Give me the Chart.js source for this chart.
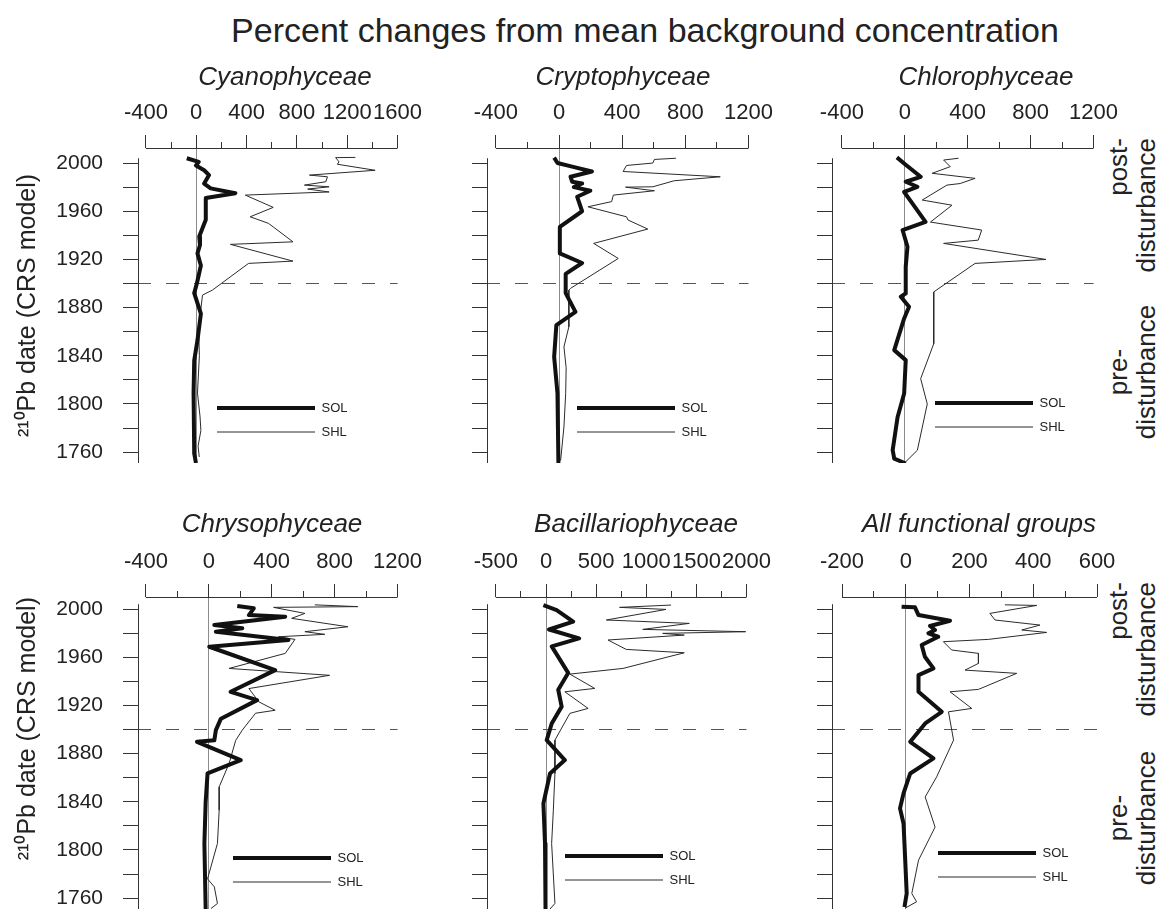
<!DOCTYPE html>
<html lang="en">
<head>
<meta charset="utf-8">
<title>Percent changes from mean background concentration</title>
<script src="https://cdn.jsdelivr.net/npm/chart.js@4.4.1/dist/chart.umd.min.js"></script>
<style>
  html, body { margin: 0; background: #fff; }
  body { position: relative; width: 1164px; height: 909px; overflow: hidden;
         font-family: "Liberation Sans", Arial, sans-serif; color: #222; }
  #mainTitle { position: absolute; left: 145px; width: 1000px; top: 10px; line-height: 40px;
               text-align: center; font-size: 34px; }
  .panel { position: absolute; }
  .side { position: absolute; width: 150px; font-size: 26px; line-height: 28px; white-space: nowrap;
          transform: translate(-50%, -50%) rotate(-90deg); }
</style>
</head>
<body>
<div id="mainTitle">Percent changes from mean background concentration</div>
<div class="side" style="left:1132px; top:213px; text-align:right">post-<br>disturbance</div>
<div class="side" style="left:1132px; top:372px; text-align:center">pre-<br>disturbance</div>
<div class="side" style="left:1132px; top:657px; text-align:right">post-<br>disturbance</div>
<div class="side" style="left:1132px; top:818px; text-align:center">pre-<br>disturbance</div>

<script>
// Values as [year, % change from mean background]
const CYANO_SOL = [[2004, -75], [2001, 20], [1998, -2], [1994, 63], [1990, 102], [1983, 63], [1979, 115],
  [1975, 311], [1971, 76], [1953, 76], [1939, 24], [1932, 30], [1925, 10], [1915, 37], [1900, 5],
  [1892, -16], [1875, 37], [1853, 10], [1836, -16], [1809, -21], [1759, -16], [1751, -2]];
const CYANO_SHL = [[2004.7, 1265], [2004.5, 1108], [2001, 1135], [1999, 1122], [1994, 1422], [1990, 900],
  [1988.6, 1043], [1984.5, 1030], [1981.7, 860], [1980.3, 1056], [1978.4, 886], [1976, 1056], [1973.4, 390],
  [1963.2, 612], [1955.4, 429], [1950, 573], [1947, 612], [1934.6, 769], [1932.5, 272], [1918.6, 769],
  [1916.7, 416], [1894.5, 128], [1890.4, 50], [1879, 37], [1860, 20], [1840, 25], [1809, 10], [1790, 30],
  [1778, 37], [1765, 15], [1756, 24]];

const CRYPTO_SOL = [[2004.5, -31], [2000, -10], [1997, 83], [1993, 208], [1988.6, 73], [1984.5, 83],
  [1983, 146], [1980, 94], [1977, 198], [1972, 115], [1960, 146], [1947, 5], [1925, 5], [1917, 146],
  [1908, 42], [1892, 42], [1876.5, 104], [1865.5, -17], [1839, -31], [1809, -10], [1751, -4]];
const CRYPTO_SHL = [[2004, 740], [2003, 604], [2000, 594], [1998, 427], [1993, 406], [1988.6, 1021],
  [1985.3, 729], [1980.3, 594], [1980, 421], [1977, 604], [1973.4, 344], [1968, 333], [1963.7, 183],
  [1955.4, 427], [1952.7, 437], [1945.2, 562], [1933.3, 219], [1920.8, 375], [1896, 73], [1894.5, 62],
  [1864, 62], [1847.4, 31], [1830, 45], [1808.7, 42], [1781, 31], [1753, 10]];

const CHLORO_SOL = [[2004.7, -50], [1999.7, -4], [1988.6, 101], [1984.5, 6], [1980.3, 80], [1976, -4],
  [1966.5, 48], [1951.2, 132], [1944.4, -14], [1930.5, 17], [1913.9, 6], [1891.8, 6], [1889, -25],
  [1880.7, 27], [1871, -4], [1844.7, -67], [1836.4, 6], [1808.7, -4], [1789, -46], [1761.6, -77],
  [1754.7, -67], [1750.6, 6]];
const CHLORO_SHL = [[2004, 342], [2002.5, 247], [1997, 289], [1991.5, 174], [1987.3, 447], [1983, 352],
  [1981.7, 268], [1969.3, 111], [1965, 300], [1951, 163], [1944.4, 489], [1936, 467], [1933.3, 247],
  [1920, 897], [1916.7, 447], [1893, 184], [1850, 184], [1821, 101], [1800, 143], [1761.6, 80], [1752, 6]];

const CHRYSO_SOL = [[2002.5, 181], [2000.6, 286], [1995, 255], [1993.6, 486], [1986.7, 35], [1984, 213],
  [1981.2, 45], [1974.3, 506], [1968.7, 3], [1949.3, 422], [1931.3, 139], [1924.4, 307], [1909, 77],
  [1899.5, 45], [1891, 35], [1889.8, -75], [1874.6, 203], [1863.5, -8], [1840, -20], [1805.4, -28],
  [1751, -20]];
const CHRYSO_SHL = [[2003.5, 674], [2002, 947], [2001.4, 412], [1996.4, 611], [1992.3, 527], [1985.3, 884],
  [1981.2, 611], [1979, 737], [1977, 443], [1974.8, 548], [1963.2, 486], [1950.7, 129], [1945, 768],
  [1934, 255], [1923, 318], [1916, 422], [1913.5, 297], [1899.5, 213], [1891, 171], [1871.8, 129],
  [1852.4, 66], [1833, 66], [1805.4, 55], [1776, -8], [1769.4, 35], [1755.6, 55], [1751.4, 14]];

const BACILL_SOL = [[2003.3, -26], [1999.2, 106], [1989.5, 271], [1983, 30], [1975.7, 330], [1969, 57],
  [1947, 221], [1933, 122], [1919, 156], [1905, 57], [1891.2, 7], [1874.6, 188], [1863.5, 40],
  [1838.6, -26], [1805.4, -10], [1751, -5]];
const BACILL_SHL = [[2003.3, 1247], [2001.4, 734], [1999.7, 1197], [1990.9, 602], [1988.1, 1429],
  [1983.1, 965], [1981.2, 1991], [1979.8, 1164], [1978.4, 1379], [1974.3, 618], [1966.5, 800],
  [1963.7, 1379], [1950.7, 767], [1946, 238], [1934.1, 486], [1931.3, 188], [1917.5, 420], [1913.4, 238],
  [1891.2, 89], [1863.5, 89], [1833, 73], [1805.4, 56], [1755.6, 89], [1751, 40]];

const ALL_SOL = [[2002, -13], [2001.4, 29], [1995, 40], [1990.3, 139], [1985.9, 76], [1982.6, 92],
  [1979.8, 71], [1977, 102], [1970.1, 50], [1960.4, 60], [1950.7, 87], [1945.2, 40], [1931.3, 40],
  [1914.7, 113], [1905, 61], [1889.8, 14], [1876, 87], [1863.5, 14], [1847, -7], [1834.5, -18],
  [1822, -7], [1805, -4], [1764, 3], [1752.7, -4]];
const ALL_SHL = [[2003.5, 311], [2003, 411], [1996.4, 264], [1990.9, 280], [1986.7, 421], [1982.6, 364],
  [1980.6, 442], [1974.8, 259], [1972.9, 118], [1966, 144], [1963.2, 228], [1954.9, 228], [1949.3, 186],
  [1946.6, 348], [1933.3, 228], [1931.3, 139], [1917.5, 207], [1914.7, 134], [1891.2, 150], [1860.7, 97],
  [1844, 61], [1819, 92], [1791.5, 40], [1763.9, 19], [1757, 34], [1751.7, -2]];

// tick labels
const CYANO_X = [-400, 0, 400, 800, 1200, 1600];
const CRYPTO_X = [-400, 0, 400, 800, 1200];
const CHLORO_X = [-400, 0, 400, 800, 1200];
const CHRYSO_X = [-400, 0, 400, 800, 1200];
const BACILL_X = [-500, 0, 500, 1000, 1500, 2000];
const ALL_X = [-200, 0, 200, 400, 600];
const YEAR_LABELS = [1760, 1800, 1840, 1880, 1920, 1960, 2000];
const DISTURBANCE_YEAR = 1900;
const AXIS_TOP_YEAR = 2004;

const PANELS = [
  { title: 'Cyanophyceae', sol: CYANO_SOL, shl: CYANO_SHL, xLabels: CYANO_X },
  { title: 'Cryptophyceae', sol: CRYPTO_SOL, shl: CRYPTO_SHL, xLabels: CRYPTO_X },
  { title: 'Chlorophyceae', sol: CHLORO_SOL, shl: CHLORO_SHL, xLabels: CHLORO_X },
  { title: 'Chrysophyceae', sol: CHRYSO_SOL, shl: CHRYSO_SHL, xLabels: CHRYSO_X },
  { title: 'Bacillariophyceae', sol: BACILL_SOL, shl: BACILL_SHL, xLabels: BACILL_X },
  { title: 'All functional groups', sol: ALL_SOL, shl: ALL_SHL, xLabels: ALL_X }
];

// page geometry, px. The canvas runs 34px past the plot bottom because
// Chart.js reserves half a tick label + tick padding below the y axis.
const EXTRA_BOTTOM = 34;
const ROWS = [
  { top: 44, plotH: 419, yMin: 1751, yMax: 2012.5, xAxisH: 54.4, titleTop: 18.4, yTitleAlign: 'center' },
  { top: 490, plotH: 419, yMin: 1751, yMax: 2010, xAxisH: 56.4, titleTop: 19.4, yTitleAlign: 'end' }
];
const COLS = [
  { left: 0, yAxisW: 138, gap: 8 },
  { left: 445, yAxisW: 42, gap: 9 },
  { left: 790, yAxisW: 42, gap: 10 }
];
const PLOT_RIGHT = [401, 752, 1097, 401, 750, 1097];
const TITLE_CX = [285, 623, 986, 272, 636, 979];
const LEGEND_AT = [[217, 408], [577, 408], [935, 403], [233, 858], [565, 856], [938, 853]];
const PAD_RIGHT = 30;
const LEG_PAD = 11, LEG_FONT = 13;

Chart.defaults.font.family = '"Liberation Sans", Arial, sans-serif';
Chart.defaults.color = '#222';

// moves title/legend into place and draws the two axis lines
const framePlugin = {
  id: 'frame',
  afterLayout(chart, args, o) {
    const t = chart.titleBlock;
    if (t) {
      const w = t.right - t.left;
      t.left = o.titleCx - w / 2;
      t.right = t.left + w;
    }
    const lg = chart.legend;
    if (lg) {
      lg.left = o.legX - LEG_PAD;
      lg.right = lg.left + lg.width;
      lg.top = o.legY - LEG_PAD - LEG_FONT / 2;
      lg.bottom = lg.top + 120;
    }
  },
  beforeDatasetsDraw(chart, args, o) {
    const { ctx, chartArea, scales: { x, y } } = chart;
    ctx.save();
    ctx.strokeStyle = '#333';
    ctx.lineWidth = 1;
    ctx.beginPath();
    const ty = Math.floor(chartArea.top) + 0.5;
    ctx.moveTo(x.getPixelForValue(o.xFrom), ty);
    ctx.lineTo(x.getPixelForValue(o.xTo), ty);
    const lx = Math.floor(chartArea.left) + 0.5;
    ctx.moveTo(lx, y.getPixelForValue(AXIS_TOP_YEAR));
    ctx.lineTo(lx, chartArea.bottom);
    ctx.stroke();
    ctx.restore();
  }
};

function withMidpoints(labels) {
  const out = [];
  labels.forEach((v, i) => {
    out.push(v);
    if (i < labels.length - 1) out.push((v + labels[i + 1]) / 2);
  });
  return out;
}

const YEAR_TICKS = withMidpoints(YEAR_LABELS);

function makePanel(i) {
  const p = PANELS[i];
  const row = ROWS[Math.floor(i / 3)];
  const col = COLS[i % 3];
  const firstCol = i % 3 === 0;
  const w = PLOT_RIGHT[i] + PAD_RIGHT - col.left;

  const wrap = document.createElement('div');
  wrap.className = 'panel';
  wrap.style.left = col.left + 'px';
  wrap.style.top = row.top + 'px';
  const canvas = document.createElement('canvas');
  canvas.width = w;
  canvas.height = row.plotH + EXTRA_BOTTOM;
  wrap.appendChild(canvas);
  document.body.appendChild(wrap);

  const lo = p.xLabels[0], hi = p.xLabels[p.xLabels.length - 1];
  const plotW = PLOT_RIGHT[i] - (col.left + col.yAxisW);
  const xMin = lo - col.gap * (hi - lo) / (plotW - col.gap);
  const xTicks = withMidpoints(p.xLabels);

  new Chart(canvas, {
    type: 'line',
    data: {
      datasets: [
        { label: 'SOL', data: p.sol.map(([yr, v]) => ({ x: v, y: yr })), borderColor: '#111',
          borderWidth: 4, pointRadius: 0, tension: 0, borderJoinStyle: 'round', borderCapStyle: 'butt' },
        { label: 'SHL', data: p.shl.map(([yr, v]) => ({ x: v, y: yr })), borderColor: '#2b2b2b',
          borderWidth: 1, pointRadius: 0, tension: 0, borderJoinStyle: 'miter', borderCapStyle: 'butt' }
      ]
    },
    options: {
      responsive: false,
      animation: false,
      devicePixelRatio: 1,
      layout: { padding: { left: 0, right: PAD_RIGHT, top: 0, bottom: EXTRA_BOTTOM } },
      scales: {
        x: {
          type: 'linear', position: 'top', min: xMin, max: hi,
          afterBuildTicks: s => { s.ticks = xTicks.map(v => ({ value: v })); },
          afterFit: s => { s.height = row.xAxisH; },
          border: { display: false },
          grid: {
            color: c => (c.tick && c.tick.value === 0 ? '#8c8c8c' : 'rgba(0,0,0,0)'),
            lineWidth: 1, tickLength: 13, tickColor: '#333', tickWidth: 1,
            tickBorderDash: c => (c.tick && p.xLabels.includes(c.tick.value) ? [] : [0, 7, 6, 100])
          },
          ticks: {
            autoSkip: false, maxRotation: 0, minRotation: 0, padding: 9, color: '#222', font: { size: 22 },
            callback: v => (p.xLabels.includes(v) ? String(v) : '')
          }
        },
        y: {
          type: 'linear', position: 'left', min: row.yMin, max: row.yMax,
          afterBuildTicks: s => { s.ticks = YEAR_TICKS.map(v => ({ value: v })); },
          afterFit: s => { s.width = col.yAxisW; },
          border: { display: false, dash: c => (c.tick && c.tick.value === DISTURBANCE_YEAR ? [13, 15] : []) },
          grid: {
            color: c => (c.tick && c.tick.value === DISTURBANCE_YEAR ? '#555' : 'rgba(0,0,0,0)'),
            lineWidth: 1, tickLength: 15, tickColor: '#333', tickWidth: 1
          },
          ticks: {
            autoSkip: false, padding: 20, color: '#222', font: { size: 21 },
            callback: v => (firstCol && YEAR_LABELS.includes(v) ? String(v) : '')
          },
          title: {
            display: firstCol, text: '\u00B2\u00B9\u2070Pb date (CRS model)', color: '#222',
            align: row.yTitleAlign, font: { size: 25 }, padding: { top: 13, bottom: 0 }
          }
        }
      },
      plugins: {
        title: {
          display: true, text: p.title, color: '#222',
          font: { size: 26, style: 'italic', weight: 'normal' },
          padding: { top: row.titleTop, bottom: 0 }
        },
        legend: {
          position: 'chartArea',
          align: 'start',
          labels: {
            usePointStyle: true, pointStyle: 'line', pointStyleWidth: 98, boxHeight: 12,
            padding: LEG_PAD, color: '#222', font: { size: LEG_FONT }
          }
        },
        tooltip: { enabled: false },
        frame: {
          titleCx: TITLE_CX[i] - col.left,
          legX: LEGEND_AT[i][0] - col.left,
          legY: LEGEND_AT[i][1] - row.top,
          xFrom: lo, xTo: hi
        }
      }
    },
    plugins: [framePlugin]
  });
}

PANELS.forEach((_, i) => makePanel(i));
</script>
</body>
</html>
